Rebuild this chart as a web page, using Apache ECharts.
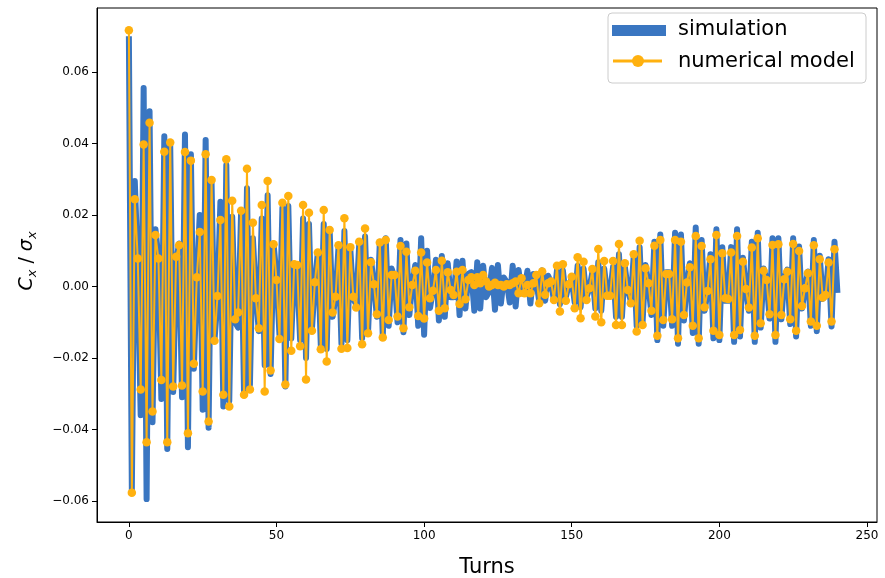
<!DOCTYPE html>
<html><head><meta charset="utf-8">
<script src="https://cdn.jsdelivr.net/npm/echarts@6/dist/echarts.min.js"></script>
<style>html,body{margin:0;padding:0;background:#fff;}#c{width:885px;height:578px;}</style>
</head><body><div id="c"></div>
<script>
// ---- data ----
const seriesNames = ['simulation', 'numerical model'];
const xTicks = [0, 50, 100, 150, 200, 250];
const yTicks = [-0.06, -0.04, -0.02, 0, 0.02, 0.04, 0.06];

// simulation C_x/sigma_x per turn (turn = index)
const simulation = [
 0.0700,-0.0570,0.0295,0.0060,-0.0360,0.0555,-0.0595,0.0490,-0.0380,0.0160,
 0.0080,-0.0315,0.0420,-0.0455,0.0395,-0.0295,0.0070,0.0120,-0.0310,0.0425,
 -0.0450,0.0370,-0.0230,0.0020,0.0200,-0.0345,0.0410,-0.0395,0.0290,-0.0150,
 -0.0040,0.0237,-0.0336,0.0340,-0.0320,0.0195,-0.0100,-0.0115,0.0205,-0.0300,
 0.0275,-0.0275,0.0135,-0.0020,-0.0125,0.0190,-0.0220,0.0255,-0.0245,0.0120,
 0.0030,-0.0135,0.0220,-0.0280,0.0225,-0.0145,0.0060,0.0040,-0.0150,0.0190,
 -0.0200,0.0175,-0.0120,0.0010,0.0095,-0.0165,0.0175,-0.0175,0.0160,-0.0085,
 -0.0030,0.0110,-0.0160,0.0155,-0.0150,0.0105,-0.0035,-0.0050,0.0115,-0.0145,
 0.0140,-0.0130,0.0075,0.0005,-0.0085,0.0125,-0.0140,0.0135,-0.0110,0.0050,
 0.0025,-0.0100,0.0130,-0.0128,0.0120,-0.0080,0.0010,0.0060,-0.0110,0.0135,
 -0.0135,0.0100,-0.0060,-0.0010,0.0075,-0.0095,0.0085,-0.0085,0.0065,-0.0030,
 -0.0030,0.0070,-0.0080,0.0072,-0.0062,0.0035,0.0040,-0.0068,0.0068,-0.0062,
 0.0058,-0.0030,-0.0015,0.0052,-0.0065,0.0060,-0.0048,0.0025,0.0012,-0.0045,
 0.0058,-0.0056,0.0046,-0.0020,-0.0012,0.0044,-0.0048,0.0035,0.0015,-0.0042,
 0.0045,-0.0040,0.0030,0.0012,-0.0040,0.0045,-0.0050,0.0045,-0.0030,0.0005,
 0.0020,-0.0045,0.0058,-0.0058,0.0050,-0.0030,-0.0005,0.0040,-0.0062,0.0068,
 -0.0068,0.0050,-0.0020,-0.0020,0.0055,-0.0085,0.0090,-0.0085,0.0055,-0.0010,
 -0.0040,0.0085,-0.0110,0.0110,-0.0100,0.0060,0.0005,-0.0080,0.0125,-0.0150,
 0.0145,-0.0110,0.0040,0.0040,-0.0110,0.0150,-0.0160,0.0145,-0.0095,0.0012,
 0.0065,-0.0130,0.0165,-0.0160,0.0130,-0.0068,-0.0015,0.0090,-0.0145,0.0160,
 -0.0150,0.0110,-0.0040,-0.0040,0.0110,-0.0155,0.0160,-0.0140,0.0080,-0.0008,
 -0.0068,0.0125,-0.0155,0.0150,-0.0115,0.0050,0.0020,-0.0090,0.0135,-0.0155,
 0.0135,-0.0092,0.0023,0.0047,-0.0105,0.0135,-0.0140,0.0112,-0.0062,-0.0006,
 0.0042,-0.0110,0.0130,-0.0125,0.0086,-0.0035,-0.0027,0.0076,-0.0112,0.0125,
 -0.0018
];

// numerical model C_x/sigma_x per turn (turn = index)
const numericalModel = [
 0.0717,-0.0577,0.0244,0.0078,-0.0288,0.0397,-0.0436,0.0458,-0.0350,0.0144,
 0.0078,-0.0262,0.0377,-0.0436,0.0403,-0.0280,0.0083,0.0115,-0.0277,0.0376,
 -0.0411,0.0352,-0.0216,0.0026,0.0152,-0.0294,0.0370,-0.0378,0.0298,-0.0152,
 -0.0027,0.0186,-0.0303,0.0356,-0.0336,0.0240,-0.0092,-0.0073,0.0212,-0.0303,
 0.0329,-0.0288,0.0178,-0.0033,-0.0117,0.0228,-0.0294,0.0295,-0.0235,0.0118,
 0.0018,-0.0147,0.0234,-0.0274,0.0253,-0.0180,0.0062,0.0060,-0.0167,0.0228,
 -0.0260,0.0206,-0.0124,0.0012,0.0095,-0.0176,0.0214,-0.0210,0.0158,-0.0073,
 -0.0029,0.0115,-0.0174,0.0191,-0.0172,0.0110,-0.0029,-0.0059,0.0125,-0.0162,
 0.0162,-0.0131,0.0068,0.0006,-0.0078,0.0123,-0.0143,0.0130,-0.0094,0.0032,
 0.0032,-0.0084,0.0113,-0.0117,0.0097,-0.0058,0.0004,0.0044,-0.0083,0.0095,
 -0.0090,0.0067,-0.0033,-0.0012,0.0046,-0.0068,0.0072,-0.0061,0.0040,-0.0010,
 -0.0024,0.0041,-0.0049,0.0046,-0.0036,0.0018,0.0026,0.0004,0.0026,0.0009,
 0.0032,0.0014,0.0000,0.0004,0.0010,0.0004,0.0004,0.0000,0.0006,0.0004,
 0.0009,0.0014,-0.0019,0.0023,-0.0019,0.0004,-0.0019,0.0009,0.0032,-0.0047,
 0.0042,-0.0023,0.0009,0.0014,-0.0038,0.0058,-0.0070,0.0062,-0.0040,0.0006,
 0.0027,-0.0061,0.0082,-0.0089,0.0069,-0.0038,-0.0005,0.0049,-0.0084,0.0105,
 -0.0100,0.0071,-0.0026,-0.0026,0.0071,-0.0108,0.0119,-0.0108,0.0065,-0.0010,
 -0.0047,0.0090,-0.0126,0.0128,-0.0108,0.0051,0.0009,-0.0068,0.0114,-0.0138,
 0.0130,-0.0094,0.0035,0.0035,-0.0092,0.0130,-0.0145,0.0125,-0.0080,0.0011,
 0.0054,-0.0110,0.0141,-0.0145,0.0113,-0.0058,-0.0013,0.0076,-0.0124,0.0144,
 -0.0136,0.0093,-0.0033,-0.0035,0.0095,-0.0136,0.0141,-0.0122,0.0069,-0.0007,
 -0.0059,0.0109,-0.0138,0.0135,-0.0103,0.0044,0.0018,-0.0078,0.0116,-0.0136,
 0.0118,-0.0080,0.0020,0.0041,-0.0092,0.0119,-0.0124,0.0099,-0.0055,-0.0005,
 0.0037,-0.0098,0.0115,-0.0110,0.0076,-0.0031,-0.0024,0.0067,-0.0098,0.0104
];

// ---- chart ----
const BLUE = '#3a76c1';
const ORANGE = '#ffb10f';
const FONT = '"DejaVu Sans", sans-serif';

const chart = echarts.init(document.getElementById('c'), null, {renderer: 'canvas'});
const simData = simulation.map((v, i) => [i, v]);
const modData = numericalModel.map((v, i) => [i, v]);
const fmtY = v => (v < 0 ? '\u2212' : '') + Math.abs(v).toFixed(2);

const option = {
  animation: false,
  backgroundColor: '#ffffff',
  grid: {left: 97, right: 8, top: 8, bottom: 56, outerBoundsMode: 'none', containLabel: false,
         show: true, borderColor: '#000', borderWidth: 1, backgroundColor: 'transparent'},
  xAxis: {
    type: 'value', min: -10.8, max: 253.4,
    name: 'Turns', nameLocation: 'middle', nameGap: 35,
    nameTextStyle: {fontFamily: FONT, fontSize: 21, color: '#000'},
    axisLine: {show: true, onZero: false, lineStyle: {color: '#000', width: 1}},
    axisTick: {show: true, inside: false, length: 5, lineStyle: {color: '#000', width: 1}, customValues: xTicks},
    axisLabel: {customValues: xTicks, fontFamily: FONT, fontSize: 12, color: '#000', margin: 8},
    splitLine: {show: false}
  },
  yAxis: {
    type: 'value', min: -0.0659, max: 0.0779,
    name: '{i|C}{s|x}{n| / }{i|σ}{s|x}', nameLocation: 'middle', nameGap: 58,
    nameTextStyle: {
      fontFamily: FONT, fontSize: 19, color: '#000', padding: [0, 0, 0, 8],
      rich: {
        i: {fontFamily: FONT, fontStyle: 'italic', fontSize: 19, color: '#000'},
        s: {fontFamily: FONT, fontStyle: 'italic', fontSize: 13, color: '#000', padding: [10, 0, 0, 0]},
        n: {fontFamily: FONT, fontSize: 19, color: '#000'}
      }
    },
    axisLine: {show: true, onZero: false, lineStyle: {color: '#000', width: 1}},
    axisTick: {show: true, inside: false, length: 5, lineStyle: {color: '#000', width: 1}, customValues: yTicks},
    axisLabel: {customValues: yTicks, fontFamily: FONT, fontSize: 12, color: '#000', margin: 8, formatter: fmtY},
    splitLine: {show: false}
  },
  series: [
    {
      name: seriesNames[0], type: 'line', data: simData, showSymbol: false, symbol: 'none',
      lineStyle: {color: BLUE, width: 6, join: 'round', cap: 'butt'},
      itemStyle: {color: BLUE}, z: 2, silent: true
    },
    {
      name: seriesNames[1], type: 'line', data: modData, symbol: 'circle', symbolSize: 8.5, showSymbol: true,
      lineStyle: {color: ORANGE, width: 2, join: 'round'},
      itemStyle: {color: ORANGE, borderWidth: 0}, z: 3, silent: true
    }
  ],
  graphic: [
    {type: 'rect', z: 100, shape: {x: 608, y: 13, width: 258, height: 70, r: 4},
     style: {fill: 'rgba(255,255,255,0.85)', stroke: '#cccccc', lineWidth: 1}},
    {type: 'rect', z: 101, shape: {x: 612, y: 25, width: 54, height: 11}, style: {fill: BLUE}},
    {type: 'line', z: 101, shape: {x1: 613, y1: 61, x2: 662, y2: 61}, style: {stroke: ORANGE, lineWidth: 3}},
    {type: 'circle', z: 102, shape: {cx: 638, cy: 61, r: 6}, style: {fill: ORANGE}},
    {type: 'text', z: 101, x: 678, y: 30,
     style: {text: seriesNames[0], fontFamily: FONT, fontSize: 21, fill: '#000', verticalAlign: 'middle', align: 'left'}},
    {type: 'text', z: 101, x: 678, y: 62,
     style: {text: seriesNames[1], fontFamily: FONT, fontSize: 21, fill: '#000', verticalAlign: 'middle', align: 'left'}}
  ]
};
chart.setOption(option);
</script>
</body></html>
